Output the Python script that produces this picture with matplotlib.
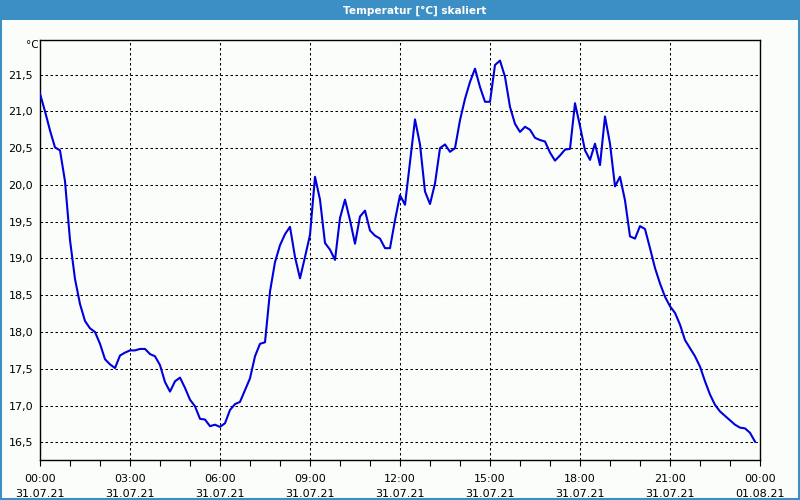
import matplotlib
matplotlib.use("Agg")
import matplotlib.pyplot as plt
from matplotlib.patches import Rectangle
from matplotlib.ticker import FixedLocator, FuncFormatter, MultipleLocator
import numpy as np

# Data: 10-minute samples from 31.07.21 00:00 to 23:50
start_hour = 0.0
step_hours = 1.0 / 6.0
temperatures = [
    21.24, 21.00, 20.74, 20.51, 20.47, 20.05,
    19.25, 18.72, 18.38, 18.15, 18.05, 18.00,
    17.84, 17.63, 17.56, 17.51, 17.68, 17.72,
    17.75, 17.75, 17.77, 17.77, 17.70, 17.67,
    17.55, 17.32, 17.19, 17.33, 17.38, 17.24,
    17.08, 16.99, 16.82, 16.81, 16.72, 16.74,
    16.71, 16.76, 16.94, 17.02, 17.05, 17.21,
    17.37, 17.67, 17.84, 17.86, 18.55, 18.95,
    19.18, 19.33, 19.43, 19.02, 18.73, 19.02,
    19.32, 20.11, 19.80, 19.21, 19.12, 18.98,
    19.55, 19.80, 19.52, 19.20, 19.57, 19.65,
    19.38, 19.31, 19.27, 19.14, 19.14, 19.52,
    19.86, 19.73, 20.31, 20.89, 20.55, 19.91,
    19.74, 20.02, 20.50, 20.55, 20.45, 20.50,
    20.88, 21.17, 21.40, 21.58, 21.33, 21.13,
    21.13, 21.63, 21.69, 21.47, 21.06, 20.83,
    20.72, 20.79, 20.75, 20.64, 20.61, 20.59,
    20.44, 20.33, 20.40, 20.48, 20.49, 21.11,
    20.80, 20.47, 20.34, 20.56, 20.27, 20.93,
    20.56, 19.98, 20.11, 19.79, 19.30, 19.27,
    19.44, 19.40, 19.14, 18.87, 18.66, 18.48,
    18.35, 18.26, 18.10, 17.89, 17.78, 17.67,
    17.53, 17.33, 17.15, 17.01, 16.92, 16.86,
    16.80, 16.74, 16.70, 16.69, 16.63, 16.51,
]
hours = [start_hour + i * step_hours for i in range(len(temperatures))]

x_tick_hours = [0, 3, 6, 9, 12, 15, 18, 21, 24]
x_tick_labels = ["00:00\n31.07.21", "03:00\n31.07.21", "06:00\n31.07.21",
                 "09:00\n31.07.21", "12:00\n31.07.21", "15:00\n31.07.21",
                 "18:00\n31.07.21", "21:00\n31.07.21", "00:00\n01.08.21"]
y_ticks = [16.5, 17.0, 17.5, 18.0, 18.5, 19.0, 19.5, 20.0, 20.5, 21.0, 21.5]
title = "Temperatur [°C] skaliert"
unit = "°C"

bg = "#fbfdfb"
bar = "#3c8fc4"

fig = plt.figure(figsize=(8, 5), dpi=100, facecolor=bg)

# title bar and window border
fig.patches.append(Rectangle((0, 0.96), 1, 0.04, transform=fig.transFigure,
                             facecolor=bar, edgecolor="none", zorder=0))
fig.patches.append(Rectangle((0.0008, 0.002), 0.9984, 0.996, transform=fig.transFigure,
                             facecolor="none", edgecolor=bar, linewidth=1.5, zorder=1))
fig.text(0.518, 0.979, title, color="white", fontsize=7.6, fontweight="bold",
         ha="center", va="center")

ax = fig.add_axes([0.05, 0.08, 0.90, 0.84])
ax.set_facecolor(bg)
ax.plot(hours, temperatures, color="#0000dd", linewidth=1.5, zorder=3)

ax.set_xlim(0, 24)
ax.set_ylim(16.26, 21.97)

ax.xaxis.set_major_locator(FixedLocator(x_tick_hours))
ax.set_xticklabels(x_tick_labels, fontsize=8, linespacing=1.6)
ax.xaxis.set_minor_locator(MultipleLocator(1))
ax.tick_params(axis="x", which="major", direction="out", length=4, width=0.8,
               pad=6, colors="black")
ax.tick_params(axis="x", which="minor", direction="out", length=4, width=0.8)

ax.yaxis.set_major_locator(FixedLocator(y_ticks))
ax.yaxis.set_major_formatter(FuncFormatter(lambda v, p: f"{v:.1f}".replace(".", ",")))
ax.tick_params(axis="y", which="major", length=0, pad=5, labelsize=8)

ax.grid(True, which="major", color="black", linestyle=(0, (2.4, 2.4)), linewidth=0.75)
for s in ax.spines.values():
    s.set_color("black")
    s.set_linewidth(1.0)

fig.text(0.048, 0.909, unit, fontsize=7.5, ha="right", va="center")

fig.savefig("out.png", dpi=100, facecolor=bg)
